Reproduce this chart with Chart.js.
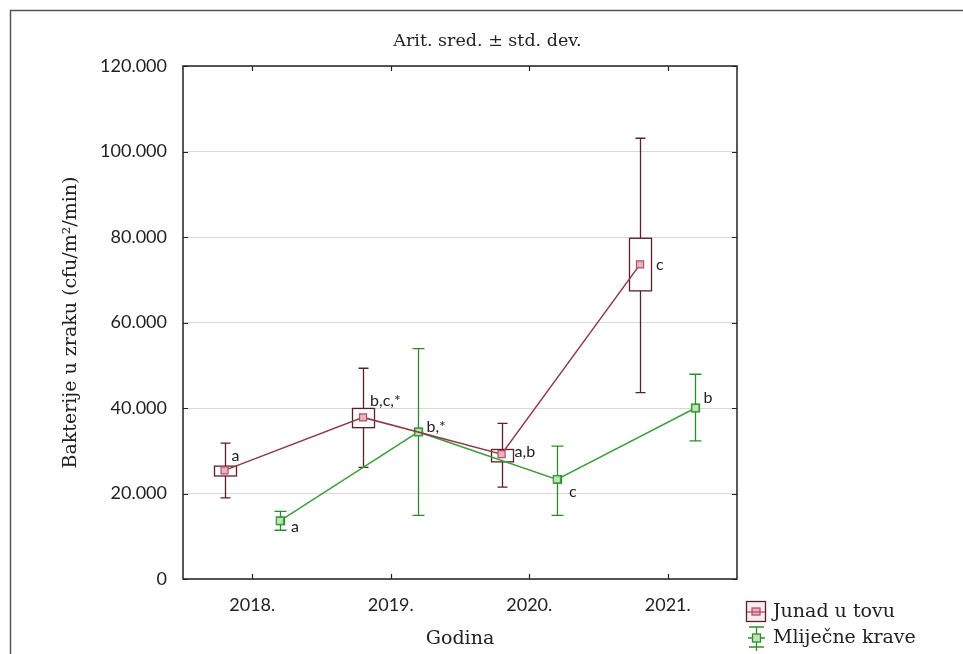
<!DOCTYPE html>
<html>
<head>
<meta charset="utf-8">
<script src="https://cdn.jsdelivr.net/npm/chart.js@4"></script>
<style>
  html, body { margin: 0; padding: 0; background: #fff; }
  #wrap { width: 963px; height: 654px; }
</style>
</head>
<body>
<div id="wrap"><canvas id="chart" width="963" height="654"></canvas></div>
<script>
// Data (mean, box, whiskers)
const years = [2018, 2019, 2020, 2021]
const yTicks = [0, 20000, 40000, 60000, 80000, 100000, 120000]

const junadMean = [25400, 37800, 29200, 73600]
const junadBoxLow = [24100, 35400, 27400, 67400]
const junadBoxHigh = [26400, 39900, 30300, 79700]
const junadMin = [19000, 26100, 21500, 43600]
const junadMax = [31800, 49300, 36400, 103100]
const junadLabels = ['a', 'b,c,*', 'a,b', 'c']

const kraveMean = [13600, 34400, 23300, 40000]
const kraveBoxLow = [12700, 33500, 22400, 39100]
const kraveBoxHigh = [14500, 35300, 24200, 40900]
const kraveMin = [11400, 14900, 14900, 32300]
const kraveMax = [15800, 53900, 31100, 47900]
const kraveLabels = ['a', 'b,*', 'c', 'b']

const chartTitle = 'Arit. sred. ± std. dev.'
const yTitle = 'Bakterije u zraku (cfu/m²/min)'
const xTitle = 'Godina'
const seriesNames = ['Junad u tovu', 'Mliječne krave']

// Styles
const SERIF = '"DejaVu Serif", serif'
const SANS = 'Lato, "Open Sans", sans-serif'

const series = [
    {
        name: seriesNames[0], offset: -0.2,
        mean: junadMean, boxLow: junadBoxLow, boxHigh: junadBoxHigh, min: junadMin, max: junadMax,
        labels: junadLabels,
        labelOffsets: [[7, -15], [7, -17], [13, -2], [16, 0]],
        line: '#8c3a48', whisker: '#5b1f24', boxW: 22, capW: 10,
        markFill: '#e7b3be', markStroke: '#b0506a'
    },
    {
        name: seriesNames[1], offset: 0.2,
        mean: kraveMean, boxLow: kraveBoxLow, boxHigh: kraveBoxHigh, min: kraveMin, max: kraveMax,
        labels: kraveLabels,
        labelOffsets: [[11, 6], [8, -5], [12, 12], [8, -10]],
        line: '#3f9f3f', whisker: '#2f8a2f', boxW: 8, capW: 12,
        markFill: '#bfe3b7', markStroke: '#3f9f3f'
    }
]

function fmtThousands (v) {
    return String(v).replace(/\B(?=(\d{3})+(?!\d))/g, '.')
}

// Boxes, whiskers, frame, inner ticks, title, point letters and legend
const statPlugin = {
    id: 'statPlugin',
    beforeDatasetsDraw (chart) {
        const { ctx, scales: { x, y } } = chart
        ctx.save()
        series.forEach(s => {
            ctx.strokeStyle = s.whisker
            ctx.lineWidth = 1.3
            s.mean.forEach((m, i) => {
                const px = Math.round(x.getPixelForValue(years[i] + s.offset)) + 0.5
                const yTop = y.getPixelForValue(s.max[i])
                const yBot = y.getPixelForValue(s.min[i])
                const bTop = y.getPixelForValue(s.boxHigh[i])
                const bBot = y.getPixelForValue(s.boxLow[i])
                ctx.beginPath()
                ctx.moveTo(px, yTop); ctx.lineTo(px, bTop)
                ctx.moveTo(px, bBot); ctx.lineTo(px, yBot)
                ctx.moveTo(px - s.capW / 2, yTop); ctx.lineTo(px + s.capW / 2, yTop)
                ctx.moveTo(px - s.capW / 2, yBot); ctx.lineTo(px + s.capW / 2, yBot)
                ctx.stroke()
                ctx.strokeRect(px - s.boxW / 2, bTop, s.boxW, bBot - bTop)
            })
        })
        ctx.restore()
    },
    afterDraw (chart) {
        const { ctx, chartArea: a, scales: { x, y } } = chart
        ctx.save()

        // outer frame (cut off at the right and bottom)
        ctx.strokeStyle = '#555'
        ctx.lineWidth = 1.5
        ctx.strokeRect(10.5, 10.5, 1000, 700)

        // plot border
        ctx.strokeStyle = '#222'
        ctx.lineWidth = 1.5
        ctx.strokeRect(a.left, a.top, a.right - a.left, a.bottom - a.top)

        // inner ticks
        ctx.lineWidth = 1.2
        ctx.beginPath()
        yTicks.forEach(v => {
            const py = Math.round(y.getPixelForValue(v)) + 0.5
            ctx.moveTo(a.left, py); ctx.lineTo(a.left + 5, py)
            ctx.moveTo(a.right, py); ctx.lineTo(a.right - 5, py)
        })
        years.forEach(v => {
            const px = Math.round(x.getPixelForValue(v)) + 0.5
            ctx.moveTo(px, a.bottom); ctx.lineTo(px, a.bottom - 5)
            ctx.moveTo(px, a.top); ctx.lineTo(px, a.top + 5)
        })
        ctx.stroke()

        // title, centred on the whole canvas
        ctx.fillStyle = '#222'
        ctx.font = '17.5px ' + SERIF
        ctx.textAlign = 'center'
        ctx.textBaseline = 'middle'
        ctx.fillText(chartTitle, chart.width / 2 + 6, 41)

        // letters beside the means
        ctx.font = '16px ' + SANS
        ctx.textAlign = 'left'
        series.forEach(s => {
            s.mean.forEach((m, i) => {
                const px = x.getPixelForValue(years[i] + s.offset)
                const py = y.getPixelForValue(m)
                const off = s.labelOffsets[i]
                ctx.fillText(s.labels[i], px + off[0], py + off[1])
            })
        })

        // legend
        const lx = 756, rows = [612, 638]
        // Junad: box with marker
        ctx.fillStyle = '#fbecef'
        ctx.fillRect(lx - 9.5, rows[0] - 10.5, 19, 20)
        ctx.strokeStyle = series[0].whisker
        ctx.lineWidth = 1.3
        ctx.strokeRect(lx - 9.5, rows[0] - 10.5, 19, 20)
        ctx.fillStyle = series[0].markFill
        ctx.fillRect(lx - 4, rows[0] - 4, 8, 7)
        ctx.strokeStyle = series[0].markStroke
        ctx.strokeRect(lx - 4, rows[0] - 4, 8, 7)
        ctx.beginPath()
        ctx.moveTo(lx - 9, rows[0]); ctx.lineTo(lx + 9, rows[0])
        ctx.stroke()
        // Mliječne krave: whisker with small box
        ctx.strokeStyle = series[1].whisker
        ctx.beginPath()
        ctx.moveTo(lx + 0.5, rows[1] - 11); ctx.lineTo(lx + 0.5, rows[1] + 13)
        ctx.moveTo(lx - 7, rows[1] - 11); ctx.lineTo(lx + 8, rows[1] - 11)
        ctx.moveTo(lx - 7, rows[1] + 9); ctx.lineTo(lx + 8, rows[1] + 9)
        ctx.moveTo(lx - 8, rows[1]); ctx.lineTo(lx + 9, rows[1])
        ctx.stroke()
        ctx.fillStyle = series[1].markFill
        ctx.fillRect(lx - 3.5, rows[1] - 4, 8, 8)
        ctx.strokeRect(lx - 3.5, rows[1] - 4, 8, 8)

        ctx.fillStyle = '#222'
        ctx.font = '19px ' + SERIF
        ctx.textAlign = 'left'
        seriesNames.forEach((n, i) => ctx.fillText(n, lx + 17, rows[i]))

        ctx.restore()
    }
}

const datasets = series.map(s => ({
    label: s.name,
    data: s.mean.map((m, i) => ({ x: years[i] + s.offset, y: m })),
    borderColor: s.line,
    borderWidth: 1.5,
    pointStyle: 'rect',
    pointRadius: 5,
    pointBackgroundColor: s.markFill,
    pointBorderColor: s.markStroke,
    pointBorderWidth: 1.2,
    tension: 0
}))

const chart = new Chart(document.getElementById('chart').getContext('2d'), {
    type: 'line',
    data: { datasets: datasets },
    options: {
        responsive: false,
        animation: false,
        layout: { padding: { left: 0, top: 66, right: 226, bottom: 0 } },
        plugins: {
            legend: { display: false },
            tooltip: { enabled: false }
        },
        scales: {
            x: {
                type: 'linear',
                min: 2017.5,
                max: 2021.5,
                afterBuildTicks: scale => { scale.ticks = years.map(v => ({ value: v })) },
                afterFit: scale => { scale.height = 75 },
                grid: { display: false, drawTicks: false },
                border: { display: false },
                ticks: {
                    padding: 15,
                    color: '#222',
                    font: { family: SANS, size: 18 },
                    callback: v => v + '.'
                },
                title: {
                    display: true,
                    text: xTitle,
                    color: '#222',
                    font: { family: SERIF, size: 19 },
                    padding: { top: 0, bottom: 4 }
                }
            },
            y: {
                min: 0,
                max: 120000,
                afterBuildTicks: scale => { scale.ticks = yTicks.map(v => ({ value: v })) },
                afterFit: scale => { scale.width = 183 },
                grid: { color: '#d9d9d9', lineWidth: 1, drawTicks: false },
                border: { display: false },
                ticks: {
                    padding: 16,
                    color: '#222',
                    font: { family: SANS, size: 18 },
                    callback: v => fmtThousands(v)
                },
                title: {
                    display: true,
                    text: yTitle,
                    color: '#222',
                    font: { family: SERIF, size: 19 },
                    padding: { top: 60, bottom: 0 }
                }
            }
        }
    },
    plugins: [statPlugin]
})
</script>
</body>
</html>
